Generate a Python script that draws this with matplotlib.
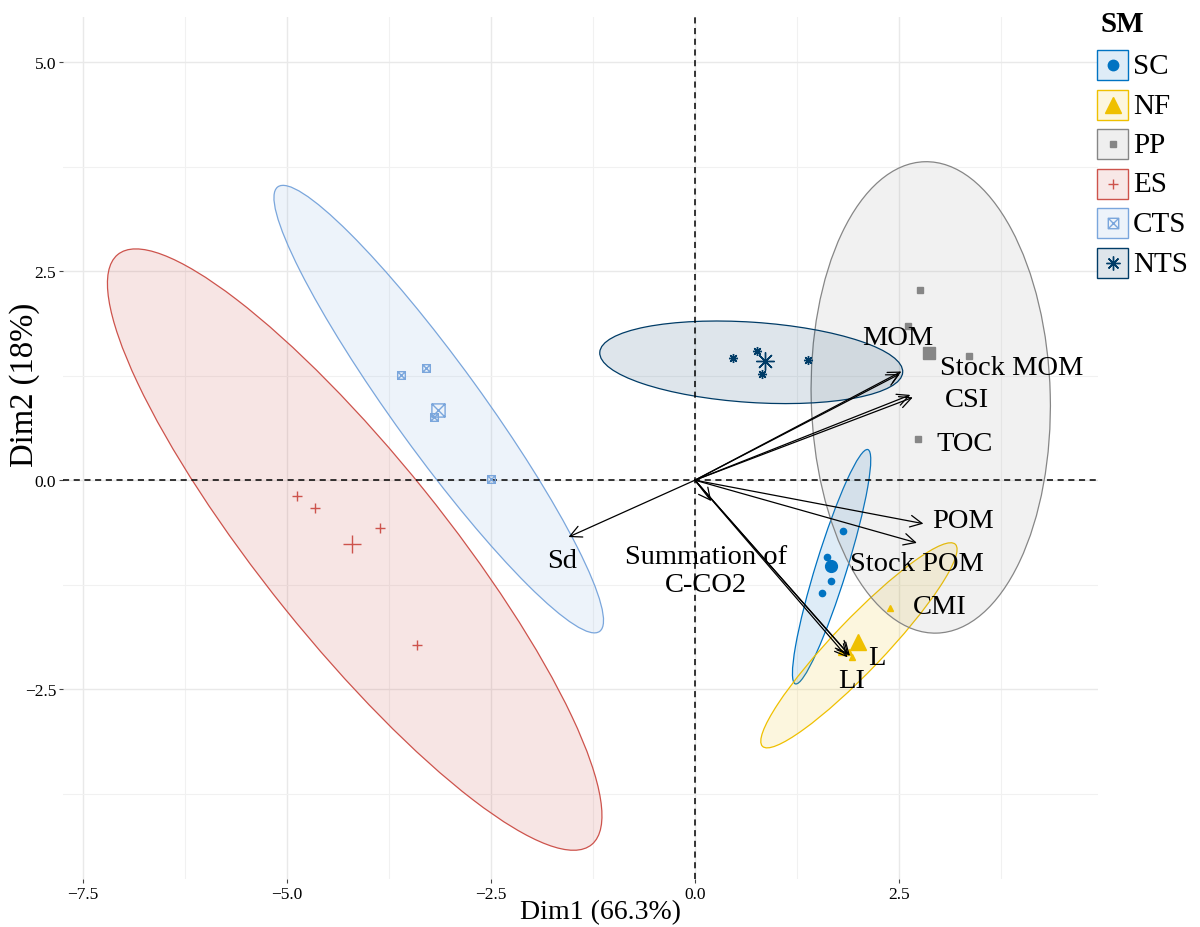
import numpy as np
import matplotlib
matplotlib.use('Agg')
import matplotlib.pyplot as plt
from matplotlib.patches import Ellipse, Rectangle
from matplotlib.path import Path
from matplotlib.colors import to_rgba

plt.rcParams['font.family'] = ['Liberation Serif', 'DejaVu Serif']

# ---------------- data ----------------
groups = ['SC', 'NF', 'PP', 'ES', 'CTS', 'NTS']

sc_x = [1.81, 1.62, 1.67, 1.56]
sc_y = [-0.61, -0.92, -1.21, -1.35]
nf_x = [2.39, 1.79, 1.93, 1.89]
nf_y = [-1.53, -2.05, -2.12, -2.06]
pp_x = [2.76, 2.61, 3.36, 2.74]
pp_y = [2.28, 1.84, 1.48, 0.49]
es_x = [-4.88, -4.66, -3.86, -3.41]
es_y = [-0.19, -0.33, -0.57, -1.97]
cts_x = [-3.60, -3.30, -3.20, -2.50]
cts_y = [1.26, 1.34, 0.75, 0.01]
nts_x = [0.47, 0.76, 0.82, 1.38]
nts_y = [1.46, 1.55, 1.27, 1.44]

# ellipse: centre x, centre y, semi-major, semi-minor, angle (deg)
ell_sc = [1.675, -1.035, 1.47, 0.19, 72.4]
ell_nf = [2.01, -1.975, 1.69, 0.31, 45.6]
ell_pp = [2.89, 0.99, 2.82, 1.465, 91.5]
ell_es = [-4.17, -0.83, 4.57, 1.11, -50.5]
ell_cts = [-3.14, 0.85, 3.31, 0.535, -53.4]
ell_nts = [0.69, 1.41, 1.86, 0.48, -3.7]

var_names = ['MOM', 'Stock MOM', 'CSI', 'TOC', 'POM', 'Stock POM', 'CMI',
             'L', 'LI', 'Sd', 'Summation of\nC-CO2']
var_x = [2.53, 2.51, 2.64, 2.67, 2.80, 2.72, 1.88, 1.90, 1.87, -1.55, 0.20]
var_y = [1.30, 1.27, 1.02, 0.99, -0.52, -0.75, -2.08, -2.10, -2.12, -0.68, -0.25]

xticks = [-7.5, -5.0, -2.5, 0.0, 2.5]
yticks = [-2.5, 0.0, 2.5, 5.0]

# ---------------- layout / style ----------------
label_pos = {
    'MOM': (2.48, 1.71), 'Stock MOM': (3.88, 1.35), 'CSI': (3.33, 0.96),
    'TOC': (3.30, 0.44), 'POM': (3.28, -0.48), 'Stock POM': (2.72, -1.00),
    'CMI': (3.00, -1.51), 'L': (2.23, -2.12), 'LI': (1.92, -2.40),
    'Sd': (-1.63, -0.96), 'Summation of\nC-CO2': (0.14, -1.08),
}

colors = {'SC': '#0073C2', 'NF': '#EFC000', 'PP': '#868686',
          'ES': '#CD534C', 'CTS': '#7AA6DC', 'NTS': '#003C67'}
fill_alpha = {'SC': 0.13, 'NF': 0.13, 'PP': 0.11, 'ES': 0.15, 'CTS': 0.13, 'NTS': 0.13}

sqx = Path([(-1, -1), (1, -1), (1, 1), (-1, 1), (-1, -1), (-1, -1), (1, 1), (-1, 1), (1, -1)],
           [Path.MOVETO, Path.LINETO, Path.LINETO, Path.LINETO, Path.CLOSEPOLY,
            Path.MOVETO, Path.LINETO, Path.MOVETO, Path.LINETO])

markers = {'SC': 'o', 'NF': '^', 'PP': 's', 'ES': '+', 'CTS': sqx, 'NTS': (8, 2, 0)}
small_ms = {'SC': 4.5, 'NF': 5, 'PP': 4, 'ES': 7, 'CTS': 5.5, 'NTS': 6.5}
big_ms = {'SC': 8.5, 'NF': 11, 'PP': 8, 'ES': 13, 'CTS': 9.5, 'NTS': 13}
hollow = {'CTS'}

pts = {'SC': (sc_x, sc_y), 'NF': (nf_x, nf_y), 'PP': (pp_x, pp_y),
       'ES': (es_x, es_y), 'CTS': (cts_x, cts_y), 'NTS': (nts_x, nts_y)}
ells = {'SC': ell_sc, 'NF': ell_nf, 'PP': ell_pp, 'ES': ell_es,
        'CTS': ell_cts, 'NTS': ell_nts}

fig = plt.figure(figsize=(12, 9.28), dpi=100)
ax = fig.add_axes([63 / 1200, 1 - 880 / 928, (1098 - 63) / 1200, (880 - 18) / 928])
ax.set_xlim(-7.745, 4.94)
ax.set_ylim(-4.77, 5.54)
for s in ax.spines.values():
    s.set_visible(False)

ax.set_xticks(xticks)
ax.set_yticks(yticks)
ax.set_xticklabels([f'{v:.1f}'.replace('-', '\u2212') for v in xticks])
ax.set_yticklabels([f'{v:.1f}'.replace('-', '\u2212') for v in yticks])
ax.set_xticks([-6.25, -3.75, -1.25, 1.25, 3.75], minor=True)
ax.set_yticks([-3.75, -1.25, 1.25, 3.75], minor=True)
ax.tick_params(which='major', length=3, width=0.8, color='#444444',
               labelsize=12.5, pad=2)
ax.tick_params(which='minor', length=0)
ax.grid(which='major', color='#e9e9e9', lw=1.0, zorder=0)
ax.grid(which='minor', color='#f1f1f1', lw=0.8, zorder=0)
ax.set_axisbelow(True)

# ellipses
for g in groups:
    cx, cy, a, b, ang = ells[g]
    c = colors[g]
    ax.add_patch(Ellipse((cx, cy), 2 * a, 2 * b, angle=ang,
                         facecolor=to_rgba(c, fill_alpha[g]), edgecolor=c,
                         lw=0.9, zorder=1))

ax.axhline(0, color='black', lw=1.1, ls=(0, (4, 3)), zorder=2)
ax.axvline(0, color='black', lw=1.1, ls=(0, (4, 3)), zorder=2)

# points and centroids
for g in groups:
    xs, ys = pts[g]
    c = colors[g]
    mfc = 'none' if g in hollow else c
    ax.plot(xs, ys, ls='none', marker=markers[g], ms=small_ms[g], color=c,
            mfc=mfc, mew=1.0, zorder=3)
    ax.plot([np.mean(xs)], [np.mean(ys)], ls='none', marker=markers[g],
            ms=big_ms[g], color=c, mfc=mfc, mew=1.0, zorder=3)

# variable arrows
for name, vx, vy in zip(var_names, var_x, var_y):
    ax.annotate('', xy=(vx, vy), xytext=(0, 0),
                arrowprops=dict(arrowstyle='->,head_length=0.7,head_width=0.35',
                                color='black', lw=0.9, shrinkA=0, shrinkB=0,
                                mutation_scale=12), zorder=4)
    lx, ly = label_pos[name]
    ax.text(lx, ly, name, fontsize=20.5, ha='center', va='center',
            linespacing=1.15, zorder=5)

# axis titles
fig.text(600 / 1200, 1 - 913 / 928, 'Dim1 (66.3%)', fontsize=20, ha='center', va='center')
fig.text(25 / 1200, 1 - 385 / 928, 'Dim2 (18%)', fontsize=23.5, ha='center', va='center',
         rotation=90)

# legend
lax = fig.add_axes([1085 / 1200, 1 - 300 / 928, 115 / 1200, 300 / 928])
lax.set_xlim(1085, 1200)
lax.set_ylim(300, 0)
lax.axis('off')
lax.text(1100, 25, 'SM', fontsize=21, fontweight='bold', ha='left', va='center')
leg_ms = {'SC': 7.5, 'NF': 11, 'PP': 5, 'ES': 7.5, 'CTS': 7.5, 'NTS': 10}
for i, g in enumerate(groups):
    cy = 66 + 39.5 * i
    c = colors[g]
    lax.add_patch(Rectangle((1097, cy - 15), 31, 30, facecolor=to_rgba(c, 0.13),
                            edgecolor=c, lw=1.0))
    mfc = 'none' if g in hollow else c
    lax.plot([1112.5], [cy], marker=markers[g], ms=leg_ms[g], color=c, mfc=mfc,
             mew=1.0, ls='none')
    lax.text(1133, cy + 1, g, fontsize=21, ha='left', va='center')

fig.savefig('out.png', dpi=100)
